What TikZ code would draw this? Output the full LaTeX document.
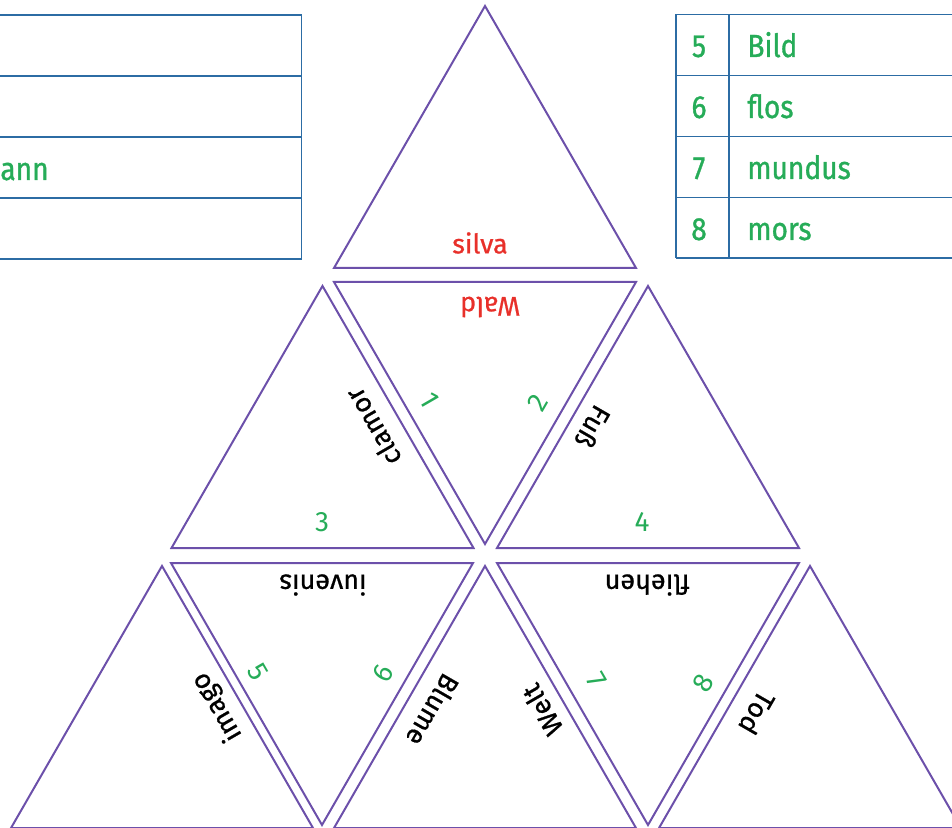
\documentclass[tikz,border=0pt]{standalone}
\usepackage{fontspec}
\setmainfont{Fira Sans}
\newfontfamily\tilefont{Fira Sans}[FakeBold=0.8]
\newfontfamily\listfont{Fira Sans}[FakeBold=1,FakeStretch=0.88]
\definecolor{tilepurple}{RGB}{108,80,170}
\definecolor{numgreen}{RGB}{38,172,88}
\definecolor{wordred}{RGB}{232,48,42}
\definecolor{gridblue}{RGB}{44,108,164}
\tikzset{
  tile/.style={draw=tilepurple,line width=1pt,line join=miter},
  gridline/.style={draw=gridblue,line width=0.7pt},
  word/.style={font=\tilefont\fontsize{13.5}{16}\selectfont,text=black,inner sep=0pt},
  redword/.style={word,text=wordred},
  num/.style={font=\fontsize{14}{16}\selectfont,text=numgreen,inner sep=0pt},
  entry/.style={font=\listfont\fontsize{16}{19}\selectfont,text=numgreen,inner sep=0pt},
}
\begin{document}
\begin{tikzpicture}[x=0.5pt,y=-0.5pt]
\useasboundingbox (0,0) rectangle (952,828);
\clip (0,0) rectangle (952,828);
\pgfmathsetmacro{\side}{302}
\pgfmathsetmacro{\high}{262}

% word lists
\foreach \y in {15,76,137,198,259}
  \draw[gridline] (-5,\y) -- (301.5,\y);
\draw[gridline] (301.5,15) -- (301.5,259);
\foreach \y in {14.5,75.5,136.5,197.5,258}
  \draw[gridline] (676,\y) -- (960,\y);
\draw[gridline] (676,14.5) -- (676,258);
\draw[gridline] (729,14.5) -- (729,258);

\node[entry,anchor=base west] (mann) at (0,180) {ann};
\node[entry,anchor=base] (n5) at (699,57) {5};
\node[entry,anchor=base west] (bild) at (747,57) {Bild};
\node[entry,anchor=base] (n6) at (699,118) {6};
\node[entry,anchor=base west] (flos) at (747,118) {flos};
\node[entry,anchor=base] (n7) at (699,179) {7};
\node[entry,anchor=base west] (mundus) at (747,179) {mundus};
\node[entry,anchor=base] (n8) at (699,240) {8};
\node[entry,anchor=base west] (mors) at (747,240) {mors};

% upward tiles
\draw[tile] (485,6) -- ++(\side/2,\high) -- ++(-\side,0) -- cycle;
\draw[tile] (322.5,286) -- ++(\side/2,\high) -- ++(-\side,0) -- cycle;
\draw[tile] (648,286) -- ++(\side/2,\high) -- ++(-\side,0) -- cycle;
\draw[tile] (162,566) -- ++(\side/2,\high) -- ++(-\side,0) -- cycle;
\draw[tile] (485,566) -- ++(\side/2,\high) -- ++(-\side,0) -- cycle;
\draw[tile] (810,566) -- ++(\side/2,\high) -- ++(-\side,0) -- cycle;
% downward tiles
\draw[tile] (485,544) -- ++(\side/2,-\high) -- ++(-\side,0) -- cycle;
\draw[tile] (322,825) -- ++(\side/2,-\high) -- ++(-\side,0) -- cycle;
\draw[tile] (648,825) -- ++(\side/2,-\high) -- ++(-\side,0) -- cycle;

% edge labels
\node[redword] (silva) at (480,243) {silva};
\node[redword,rotate=180] (wald) at (490,307) {Wald};
\node[word,rotate=120] (clamor) at (373,427) {clamor};
\node[num,rotate=-60] (one) at (430,400) {1};
\node[num,rotate=60] (two) at (538,403) {2};
\node[word,rotate=-120] (fuss) at (593,427) {Fuß};
\node[num] (three) at (322,522) {3};
\node[num] (four) at (642,522) {4};

\node[word,rotate=180] (iuvenis) at (323,585) {iuvenis};
\node[word,rotate=120] (imago) at (217,707) {imago};
\node[num,rotate=-60] (five) at (258,672) {5};
\node[num,rotate=60] (six) at (383,673) {6};
\node[word,rotate=-120] (blume) at (433,710) {Blume};
\node[word,rotate=120] (welt) at (542,710) {Welt};
\node[word,rotate=180] (fliehen) at (647,585) {fliehen};
\node[num,rotate=-60] (seven) at (597,680) {7};
\node[num,rotate=60] (eight) at (703,683) {8};
\node[word,rotate=-120] (tod) at (757,713) {Tod};
\end{tikzpicture}
\end{document}
